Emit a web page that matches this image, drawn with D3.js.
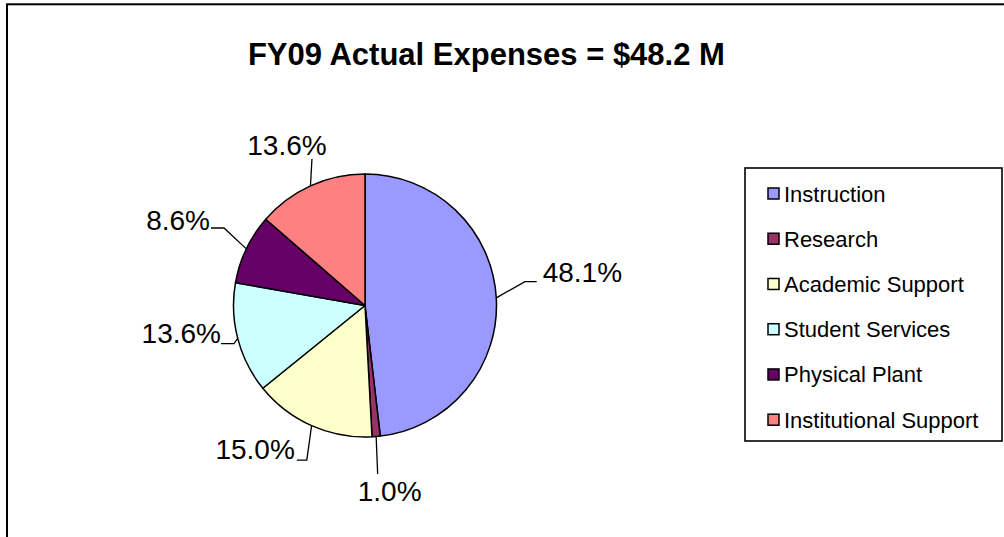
<!DOCTYPE html>
<html>
<head>
<meta charset="utf-8">
<script src="https://cdn.jsdelivr.net/npm/d3@7"></script>
<style>
  html, body { margin: 0; padding: 0; background: #fff; }
  svg { display: block; font-family: "Liberation Sans", Arial, sans-serif; }
</style>
</head>
<body>
<svg id="chart" width="1004" height="537"></svg>
<script>
// ---- data ----
const titleText = "FY09 Actual Expenses = $48.2 M";
const categories = ["Instruction", "Research", "Academic Support", "Student Services", "Physical Plant", "Institutional Support"];
const values = [48.1, 1.0, 15.0, 13.6, 8.6, 13.6];
const labels = ["48.1%", "1.0%", "15.0%", "13.6%", "8.6%", "13.6%"];
const colors = ["#9999FF", "#993366", "#FFFFCC", "#CCFFFF", "#660066", "#FF8080"];

// ---- layout (label placement, relative to leader start on the rim) ----
// elbow: [dx, dy] from rim point; tail: horizontal length (signed); text offset from tail end
const labelLayout = [
  { elbow: [28.7, -16.2], tail: 11.7, text: [6, 0.3], anchor: "start" },
  { elbow: [1.5, 37.5], tail: 0, text: [12, 27], anchor: "middle" },
  { elbow: [-4.8, 34.4], tail: -10, text: [-2, -1], anchor: "end" },
  { elbow: [-3.7, 5.1], tail: -13, text: [0, -0.5], anchor: "end" },
  { elbow: [-22.3, -20.9], tail: -13, text: [-1, 1.5], anchor: "end" },
  { elbow: [1.5, -26.8], tail: 0, text: [-25, -4], anchor: "middle" }
];

const svg = d3.select("#chart");
const W = 1004, H = 537;

// outer frame
svg.append("rect")
  .attr("x", 7).attr("y", 4.3)
  .attr("width", 1010).attr("height", 560)
  .attr("fill", "#fff").attr("stroke", "#000").attr("stroke-width", 2);

// title
svg.append("text")
  .attr("x", 486.4).attr("y", 65)
  .attr("text-anchor", "middle")
  .attr("font-weight", "bold")
  .attr("font-size", 31)
  .attr("fill", "#000")
  .text(titleText);

// pie
const cx = 365, cy = 305.5, R = 131.5;
const pie = d3.pie().sort(null).value(d => d.v);
const arcs = pie(categories.map((c, i) => ({ c, v: values[i], i })));
const arc = d3.arc().innerRadius(0).outerRadius(R);

const g = svg.append("g").attr("transform", `translate(${cx},${cy})`);
g.selectAll("path.slice")
  .data(arcs)
  .join("path")
  .attr("class", "slice")
  .attr("d", arc)
  .attr("fill", d => colors[d.data.i])
  .attr("stroke", "#000")
  .attr("stroke-width", 1.5)
  .attr("stroke-linejoin", "round");

// leader lines + labels
arcs.forEach((d, i) => {
  const mid = (d.startAngle + d.endAngle) / 2;
  const px = R * Math.sin(mid), py = -R * Math.cos(mid);
  const L = labelLayout[i];
  const ex = px + L.elbow[0], ey = py + L.elbow[1];
  const tx = ex + L.tail;
  const pts = [[px, py], [ex, ey], [tx, ey]];
  g.append("path")
    .attr("d", d3.line()(pts))
    .attr("fill", "none")
    .attr("stroke", "#000")
    .attr("stroke-width", 1.3);
  g.append("text")
    .attr("x", tx + L.text[0])
    .attr("y", ey + L.text[1])
    .attr("text-anchor", L.anchor)
    .attr("font-size", 28)
    .attr("fill", "#000")
    .text(labels[i]);
});

// legend
const lg = svg.append("g");
lg.append("rect")
  .attr("x", 745).attr("y", 168)
  .attr("width", 257).attr("height", 273)
  .attr("fill", "#fff").attr("stroke", "#000").attr("stroke-width", 1.6);

const yL = d3.scalePoint().domain(categories).range([201.5, 427.7]);
const items = lg.selectAll("g.item").data(categories).join("g").attr("class", "item");
items.append("rect")
  .attr("x", 768).attr("y", c => yL(c) - 13.5)
  .attr("width", 11).attr("height", 11)
  .attr("fill", (c, i) => colors[i])
  .attr("stroke", "#000").attr("stroke-width", 1.5);
items.append("text")
  .attr("x", 784).attr("y", c => yL(c))
  .attr("font-size", 22)
  .attr("fill", "#000")
  .text(c => c);
</script>
</body>
</html>
